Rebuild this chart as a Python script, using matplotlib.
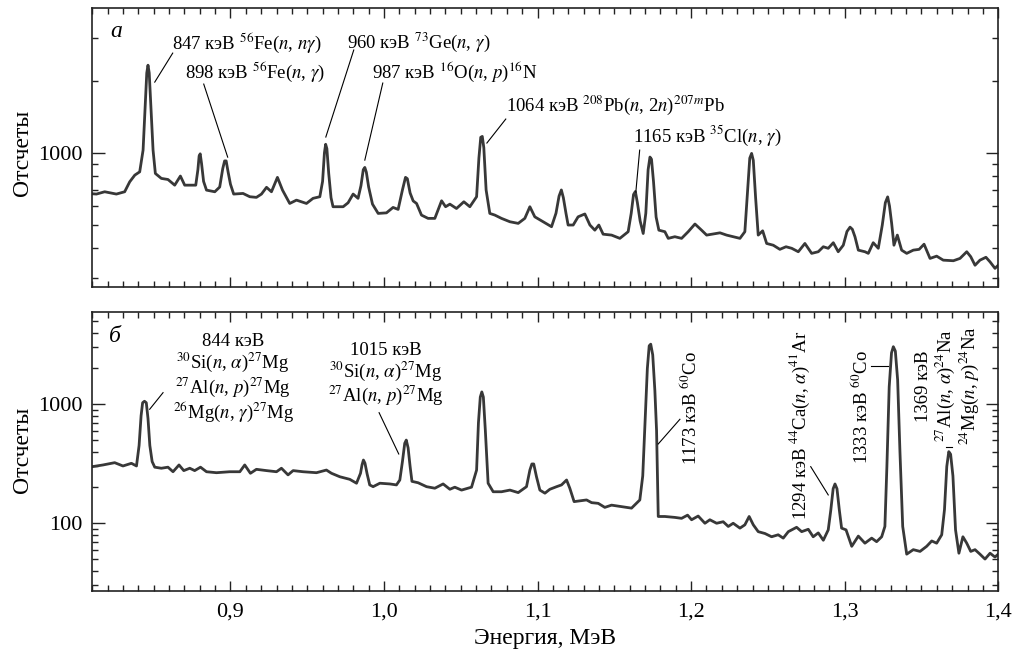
import matplotlib
matplotlib.use('Agg')
from matplotlib import pyplot as plt
from matplotlib.ticker import FixedLocator, NullFormatter, FuncFormatter

plt.rcParams['font.family'] = ['Liberation Serif', 'DejaVu Serif']
plt.rcParams['mathtext.fontset'] = 'stix'

## Спектр (а)
energia_a = [0.8100, 0.8127, 0.8181, 0.8257, 0.8311, 0.8344, 0.8377, 0.8409, 0.8431, 0.8445,
             0.8455, 0.8463, 0.8471, 0.8481, 0.8496, 0.8511, 0.8550, 0.8593, 0.8637, 0.8674,
             0.8702, 0.8735, 0.8774, 0.8788, 0.8796, 0.8803, 0.8812, 0.8825, 0.8844, 0.8898,
             0.8930, 0.8950, 0.8962, 0.8972, 0.8985, 0.9000, 0.9021, 0.9082, 0.9126, 0.9169,
             0.9202, 0.9235, 0.9267, 0.9306, 0.9339, 0.9386, 0.9430, 0.9495, 0.9538, 0.9582,
             0.9600, 0.9612, 0.9620, 0.9628, 0.9640, 0.9655, 0.9668, 0.9734, 0.9766, 0.9799,
             0.9831, 0.9850, 0.9865, 0.9875, 0.9885, 0.9900, 0.9925, 0.9962, 1.0016, 1.0059,
             1.0092, 1.0120, 1.0140, 1.0152, 1.0170, 1.0190, 1.0212, 1.0244, 1.0287, 1.0331,
             1.0375, 1.0401, 1.0429, 1.0472, 1.0520, 1.0559, 1.0603, 1.0618, 1.0630, 1.0640,
             1.0650, 1.0665, 1.0689, 1.0722, 1.0765, 1.0820, 1.0874, 1.0917, 1.0950, 1.0982,
             1.1036, 1.1091, 1.1120, 1.1140, 1.1155, 1.1168, 1.1185, 1.1199, 1.1232, 1.1264,
             1.1308, 1.1341, 1.1373, 1.1399, 1.1427, 1.1482, 1.1536, 1.1590, 1.1610, 1.1625,
             1.1637, 1.1650, 1.1668, 1.1688, 1.1705, 1.1720, 1.1732, 1.1742, 1.1755, 1.1772,
             1.1790, 1.1829, 1.1851, 1.1894, 1.1938, 1.1981, 1.2025, 1.2068, 1.2101, 1.2188,
             1.2231, 1.2274, 1.2318, 1.2350, 1.2368, 1.2382, 1.2394, 1.2405, 1.2420, 1.2437,
             1.2466, 1.2492, 1.2535, 1.2578, 1.2618, 1.2655, 1.2698, 1.2741, 1.2785, 1.2828,
             1.2861, 1.2893, 1.2926, 1.2958, 1.2991, 1.3015, 1.3035, 1.3050, 1.3067, 1.3089,
             1.3132, 1.3154, 1.3186, 1.3219, 1.3245, 1.3265, 1.3280, 1.3292, 1.3306, 1.3321,
             1.3343, 1.3371, 1.3404, 1.3447, 1.3485, 1.3517, 1.3556, 1.3599, 1.3642, 1.3708,
             1.3751, 1.3795, 1.3821, 1.3849, 1.3881, 1.3920, 1.3947, 1.3979, 1.4000]
otschety_a = [675, 673, 688, 673, 688, 757, 807, 833, 1026, 1600,
              2150, 2317, 2150, 1600, 1026, 820, 782, 774, 733, 800,
              733, 733, 733, 850, 970, 990, 900, 760, 699, 688,
              720, 860, 925, 925, 830, 740, 673, 677, 656, 652,
              673, 718, 688, 790, 699, 615, 635, 615, 646, 656,
              760, 1000, 1085, 1040, 820, 650, 596, 596, 619, 673,
              646, 730, 850, 869, 830, 720, 611, 559, 562, 592,
              581, 700, 790, 780, 680, 630, 615, 550, 533, 533,
              631, 596, 611, 586, 625, 596, 656, 950, 1160, 1170,
              1050, 700, 559, 550, 533, 516, 508, 533, 596, 541,
              516, 492, 560, 660, 700, 650, 560, 500, 500, 541,
              556, 500, 476, 500, 458, 454, 440, 469, 560, 670,
              690, 620, 520, 461, 560, 850, 960, 940, 760, 540,
              476, 469, 440, 447, 440, 469, 505, 476, 454, 464,
              454, 447, 440, 469, 700, 950, 994, 930, 650, 454,
              473, 419, 412, 396, 406, 400, 387, 419, 381, 387,
              406, 400, 422, 387, 412, 470, 490, 480, 447, 393,
              387, 381, 422, 400, 500, 620, 655, 600, 508, 412,
              454, 393, 381, 393, 396, 416, 363, 371, 357, 355,
              363, 387, 369, 340, 357, 367, 351, 330, 340]

## Спектр (б)
energia_b = [0.8100, 0.8170, 0.8246, 0.8300, 0.8355, 0.8388, 0.8405, 0.8418, 0.8428, 0.8440,
             0.8452, 0.8463, 0.8475, 0.8490, 0.8507, 0.8550, 0.8593, 0.8626, 0.8665, 0.8696,
             0.8735, 0.8767, 0.8805, 0.8844, 0.8909, 0.8995, 0.9061, 0.9093, 0.9130, 0.9169,
             0.9235, 0.9300, 0.9332, 0.9375, 0.9408, 0.9473, 0.9560, 0.9625, 0.9658, 0.9712,
             0.9777, 0.9821, 0.9847, 0.9857, 0.9866, 0.9876, 0.9890, 0.9907, 0.9929, 0.9973,
             1.0038, 1.0081, 1.0103, 1.0120, 1.0135, 1.0145, 1.0157, 1.0170, 1.0182, 1.0222,
             1.0277, 1.0331, 1.0385, 1.0429, 1.0461, 1.0505, 1.0570, 1.0603, 1.0615, 1.0627,
             1.0637, 1.0647, 1.0660, 1.0678, 1.0711, 1.0765, 1.0820, 1.0874, 1.0928, 1.0950,
             1.0963, 1.0975, 1.0993, 1.1015, 1.1048, 1.1080, 1.1124, 1.1156, 1.1189, 1.1210,
             1.1238, 1.1287, 1.1319, 1.1352, 1.1395, 1.1438, 1.1482, 1.1547, 1.1612, 1.1666,
             1.1685, 1.1700, 1.1715, 1.1727, 1.1737, 1.1750, 1.1764, 1.1775, 1.1786, 1.1829,
             1.1894, 1.1938, 1.1977, 1.2003, 1.2046, 1.2090, 1.2122, 1.2166, 1.2209, 1.2242,
             1.2274, 1.2318, 1.2350, 1.2378, 1.2405, 1.2437, 1.2481, 1.2524, 1.2567, 1.2600,
             1.2633, 1.2687, 1.2720, 1.2763, 1.2795, 1.2828, 1.2861, 1.2893, 1.2910, 1.2925,
             1.2937, 1.2950, 1.2965, 1.2980, 1.3009, 1.3046, 1.3089, 1.3132, 1.3176, 1.3208,
             1.3241, 1.3262, 1.3275, 1.3290, 1.3305, 1.3317, 1.3330, 1.3345, 1.3360, 1.3378,
             1.3404, 1.3447, 1.3491, 1.3534, 1.3567, 1.3599, 1.3632, 1.3650, 1.3665, 1.3678,
             1.3690, 1.3705, 1.3722, 1.3744, 1.3770, 1.3795, 1.3821, 1.3849, 1.3881, 1.3914,
             1.3947, 1.3979, 1.4000]
otschety_b = [299, 309, 323, 303, 319, 303, 450, 800, 1030, 1060,
              1030, 760, 450, 330, 296, 290, 296, 271, 309, 277,
              290, 277, 296, 271, 266, 271, 271, 309, 263, 284,
              277, 271, 290, 255, 277, 271, 266, 280, 263, 246,
              234, 217, 263, 310, 340, 320, 260, 210, 203, 217,
              214, 210, 231, 330, 470, 500, 430, 300, 225, 219,
              203, 197, 214, 193, 201, 190, 201, 280, 700, 1150,
              1270, 1150, 600, 217, 184, 184, 190, 181, 203, 280,
              315, 315, 246, 190, 179, 193, 203, 210, 231, 197,
              152, 155, 157, 149, 147, 136, 142, 138, 134, 157,
              250, 700, 2000, 3100, 3200, 2600, 1300, 600, 114, 114,
              112, 110, 117, 107, 115, 100, 107, 100, 103, 94,
              100, 91, 97, 114, 97, 85, 82, 77, 80, 75,
              85, 92.5, 85, 89, 77, 83, 72, 88, 130, 195,
              214, 195, 130, 91, 88, 64, 78, 68, 75, 70,
              77, 94, 300, 1400, 2700, 3048, 2800, 1600, 400, 94,
              55, 60, 58, 64, 71, 68, 80, 130, 300, 400,
              380, 250, 88, 56, 77, 68, 58, 60, 55, 50,
              56, 52, 55]

## Подписи пиков: текст, положение текста, линия-выноска
podpisi_a = [
    ('847 кэВ $^{56}$Fe($n$, $n\\gamma$)', 0.8618, 2892, (0.8624, 2602, 0.8507, 1970)),
    ('898 кэВ $^{56}$Fe($n$, $\\gamma$)', 0.8703, 2189, (0.8826, 1933, 0.8982, 959)),
    ('960 кэВ $^{73}$Ge($n$, $\\gamma$)', 0.9758, 2892, (0.9803, 2680, 0.9621, 1163)),
    ('987 кэВ $^{16}$O($n$, $p$)$^{16}$N', 0.9920, 2189, (0.9992, 1952, 0.9875, 932)),
    ('1064 кэВ $^{208}$Pb($n$, 2$n$)$^{207m}$Pb', 1.0793, 1580, (1.0793, 1382, 1.0670, 1098)),
    ('1165 кэВ $^{35}$Cl($n$, $\\gamma$)', 1.1621, 1174, (1.1665, 1026, 1.1640, 686)),
]

podpisi_b = [
    ('844 кэВ\n$^{30}$Si($n$, $\\alpha$)$^{27}$Mg\n$^{27}$Al($n$, $p$)$^{27}$Mg\n'
     '$^{26}$Mg($n$, $\\gamma$)$^{27}$Mg', 0.9018, 1641, 0, (0.8561, 1252, 0.8474, 908)),
    ('1015 кэВ\n$^{30}$Si($n$, $\\alpha$)$^{27}$Mg\n$^{27}$Al($n$, $p$)$^{27}$Mg',
     1.0012, 1774, 0, (0.9968, 850, 1.0096, 382)),
    ('1173 кэВ $^{60}$Co', 1.1992, 931, 90, (1.1927, 748, 1.1786, 464)),
    ('1294 кэВ $^{44}$Ca($n$, $\\alpha$)$^{41}$Ar', 1.2711, 670, 90, (1.2779, 299, 1.2893, 173)),
    ('1333 кэВ $^{60}$Co', 1.3106, 940, 90, (1.3171, 2098, 1.3282, 2098)),
    ('1369 кэВ\n$^{27}$Al($n$, $\\alpha$)$^{24}$Na\n$^{24}$Mg($n$, $p$)$^{24}$Na',
     1.3673, 1425, 90, (1.3657, 434, 1.3702, 434)),
]

COR = '#383838'
TAM_TEXTO = 13.5


def formatar_x(valor, pos):
    return ('%.1f' % valor).replace('.', ',')


def configurar_eixo(ax, maiores, menores):
    ax.set_yscale('log')
    ax.set_xlim(0.81, 1.4)
    ax.xaxis.set_major_locator(FixedLocator([0.9, 1.0, 1.1, 1.2, 1.3, 1.4]))
    ax.xaxis.set_minor_locator(FixedLocator([0.81 + 0.01 * i for i in range(60)]))
    ax.xaxis.set_major_formatter(FuncFormatter(formatar_x))
    ax.yaxis.set_major_locator(FixedLocator(maiores))
    ax.yaxis.set_minor_locator(FixedLocator(menores))
    ax.yaxis.set_major_formatter(FuncFormatter(lambda v, p: '%d' % v))
    ax.yaxis.set_minor_formatter(NullFormatter())
    ax.tick_params(which='both', direction='in', top=True, right=True,
                   labelsize=16, width=1.0, color='#222222')
    ax.tick_params(axis='x', which='major', length=7, pad=8)
    ax.tick_params(axis='x', which='minor', length=4)
    ax.tick_params(axis='y', which='major', length=9, pad=7)
    ax.tick_params(axis='y', which='minor', length=4.5)
    for lado in ax.spines.values():
        lado.set_linewidth(1.2)
        lado.set_color('#222222')


figura = plt.figure(figsize=(10.16, 6.57), dpi=100)
ax_a = figura.add_axes([0.0908, 0.5632, 0.8917, 0.4242])
ax_b = figura.add_axes([0.0908, 0.0997, 0.8917, 0.4259])

# Панель а
ax_a.plot(energia_a, otschety_a, color=COR, lw=2.0, solid_joinstyle='round')
configurar_eixo(ax_a, [1000], [300, 400, 500, 600, 700, 800, 900, 2000, 3000])
ax_a.set_ylim(276, 4000)
ax_a.tick_params(axis='x', labelbottom=False)
ax_a.text(0.027, 0.915, 'а', transform=ax_a.transAxes, fontsize=17,
          style='italic', ha='center', va='center')
for texto, x, y, linha in podpisi_a:
    ax_a.text(x, y, texto, fontsize=TAM_TEXTO, ha='left', va='center')
    ax_a.plot([linha[0], linha[2]], [linha[1], linha[3]], color='k', lw=0.8)

# Панель б
ax_b.plot(energia_b, otschety_b, color=COR, lw=2.0, solid_joinstyle='round')
configurar_eixo(ax_b, [100, 1000],
                [30, 40, 50, 60, 70, 80, 90, 200, 300, 400, 500, 600, 700, 800, 900,
                 2000, 3000, 4000, 5000])
ax_b.set_ylim(26.7, 6000)
ax_b.text(0.025, 0.911, 'б', transform=ax_b.transAxes, fontsize=17,
          style='italic', ha='center', va='center')
for texto, x, y, giro, linha in podpisi_b:
    ax_b.text(x, y, texto, fontsize=TAM_TEXTO, ha='center', va='center',
              rotation=giro, multialignment='center', linespacing=1.05)
    ax_b.plot([linha[0], linha[2]], [linha[1], linha[3]], color='k', lw=0.8)

figura.text(0.022, 0.767, 'Отсчеты', rotation=90, fontsize=17, ha='center', va='center')
figura.text(0.022, 0.315, 'Отсчеты', rotation=90, fontsize=17, ha='center', va='center')
figura.text(0.536, 0.028, 'Энергия, МэВ', fontsize=17, ha='center', va='center')

figura.savefig('out.png', dpi=100)
